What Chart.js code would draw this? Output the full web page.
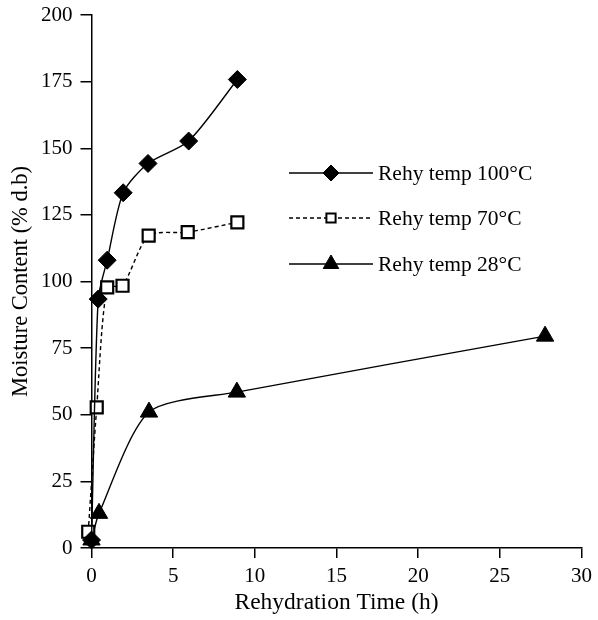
<!DOCTYPE html>
<html>
<head>
<meta charset="utf-8">
<script src="https://cdn.jsdelivr.net/npm/chart.js@4/dist/chart.umd.min.js"></script>
<style>
  html, body { margin: 0; padding: 0; background: #fff; }
  #wrap { width: 598px; height: 620px; }
</style>
</head>
<body>
<div id="wrap"><canvas id="rehy"></canvas></div>
<script>
// ── Data (time in h, moisture in % d.b) ───────────────────────
const SERIES_NAMES = ['Rehy temp 100°C', 'Rehy temp 70°C', 'Rehy temp 28°C'];

const T100 = [0, 0.41, 0.96, 1.94, 3.46, 5.95, 8.93];
const M100 = [3, 93.4, 108, 133.3, 144.3, 152.7, 175.8];

const T70 = [-0.2, 0.32, 0.96, 1.9, 3.5, 5.89, 8.93];
const M70 = [6.1, 52.8, 97.8, 98.4, 117.2, 118.5, 122.2];

const T28 = [0, 0.46, 3.52, 8.9, 27.77];
const M28 = [3, 13, 51, 58.5, 79.5];

const X_TICKS = [0, 5, 10, 15, 20, 25, 30];
const Y_TICKS = [0, 25, 50, 75, 100, 125, 150, 175, 200];

const FONT = "'Liberation Serif', 'Times New Roman', serif";
const pts = (xs, ys) => xs.map((x, i) => ({ x, y: ys[i] }));

// ── Legend: line with marker centred on it ────────────────────
const sideLegend = {
  id: 'sideLegend',
  afterDatasetsDraw(chart) {
    const ctx = chart.ctx;
    const x0 = 289, x1 = 373, mx = 331, tx = 378;
    const rows = [173, 218, 264];
    chart.data.datasets.forEach((ds, i) => {
      const y = rows[i];
      ctx.save();
      ctx.strokeStyle = '#000';
      ctx.lineWidth = 1.3;
      ctx.setLineDash(ds.borderDash || []);
      ctx.beginPath();
      ctx.moveTo(x0, y);
      ctx.lineTo(x1, y);
      ctx.stroke();
      ctx.setLineDash([]);
      ctx.fillStyle = ds.pointBackgroundColor;
      ctx.strokeStyle = ds.pointBorderColor;
      ctx.lineWidth = ds.legendBorder;
      Chart.helpers.drawPoint(ctx, {
        pointStyle: ds.pointStyle,
        radius: ds.legendRadius,
        borderWidth: ds.legendBorder
      }, mx, y);
      ctx.restore();

      ctx.save();
      ctx.fillStyle = '#000';
      ctx.font = '21.5px ' + FONT;
      ctx.textBaseline = 'middle';
      ctx.fillText(ds.label, tx, y + 1);
      ctx.restore();
    });
  }
};

new Chart(document.getElementById('rehy'), {
  type: 'scatter',
  data: {
    datasets: [
      {
        label: SERIES_NAMES[0],
        data: pts(T100, M100),
        showLine: true,
        tension: 0.25,
        borderColor: '#000',
        borderWidth: 1.4,
        pointStyle: 'rectRot',
        pointRadius: 9,
        legendRadius: 8,
        legendBorder: 1,
        pointBackgroundColor: '#000',
        pointBorderColor: '#000',
        pointBorderWidth: 1,
        clip: false
      },
      {
        label: SERIES_NAMES[1],
        data: pts(T70, M70),
        showLine: true,
        tension: 0.25,
        borderColor: '#000',
        borderWidth: 1.4,
        borderDash: [4, 3],
        pointStyle: 'rect',
        pointRadius: 8.5,
        legendRadius: 6.5,
        legendBorder: 2,
        pointBackgroundColor: '#fff',
        pointBorderColor: '#000',
        pointBorderWidth: 2.2,
        clip: false
      },
      {
        label: SERIES_NAMES[2],
        data: pts(T28, M28),
        showLine: true,
        tension: 0.25,
        borderColor: '#000',
        borderWidth: 1.4,
        pointStyle: 'triangle',
        pointRadius: 10,
        legendRadius: 9,
        legendBorder: 1,
        pointBackgroundColor: '#000',
        pointBorderColor: '#000',
        pointBorderWidth: 1,
        clip: false
      }
    ]
  },
  options: {
    responsive: true,
    maintainAspectRatio: false,
    animation: false,
    layout: { padding: { top: 15, right: 14, left: 0, bottom: 0 } },
    plugins: {
      legend: { display: false },
      tooltip: { enabled: false }
    },
    scales: {
      x: {
        type: 'linear',
        min: 0, max: 30,
        afterBuildTicks: (s) => { s.ticks = X_TICKS.map(v => ({ value: v })); },
        afterFit: (s) => { s.height = 72; },
        grid: { drawOnChartArea: false, drawTicks: true, tickLength: 10, color: '#000', lineWidth: 1.5 },
        border: { display: true, color: '#000', width: 1.5 },
        ticks: { color: '#000', font: { family: FONT, size: 21 }, padding: 6, maxRotation: 0 },
        title: {
          display: true,
          text: 'Rehydration Time (h)',
          color: '#000',
          font: { family: FONT, size: 23.5 },
          padding: { top: 0, bottom: 3 }
        }
      },
      y: {
        type: 'linear',
        min: 0, max: 200,
        afterBuildTicks: (s) => { s.ticks = Y_TICKS.map(v => ({ value: v })); },
        afterFit: (s) => { s.width = 91.5; s.paddingTop = 0; s.paddingBottom = 0; },
        grid: { drawOnChartArea: false, drawTicks: true, tickLength: 11, color: '#000', lineWidth: 1.5 },
        border: { display: true, color: '#000', width: 1.5 },
        ticks: { color: '#000', font: { family: FONT, size: 21 }, padding: 8 },
        title: {
          display: true,
          text: 'Moisture Content (% d.b)',
          color: '#000',
          font: { family: FONT, size: 22.5 },
          padding: { top: 7.5, bottom: 0 }
        }
      }
    }
  },
  plugins: [sideLegend]
});
</script>
</body>
</html>
